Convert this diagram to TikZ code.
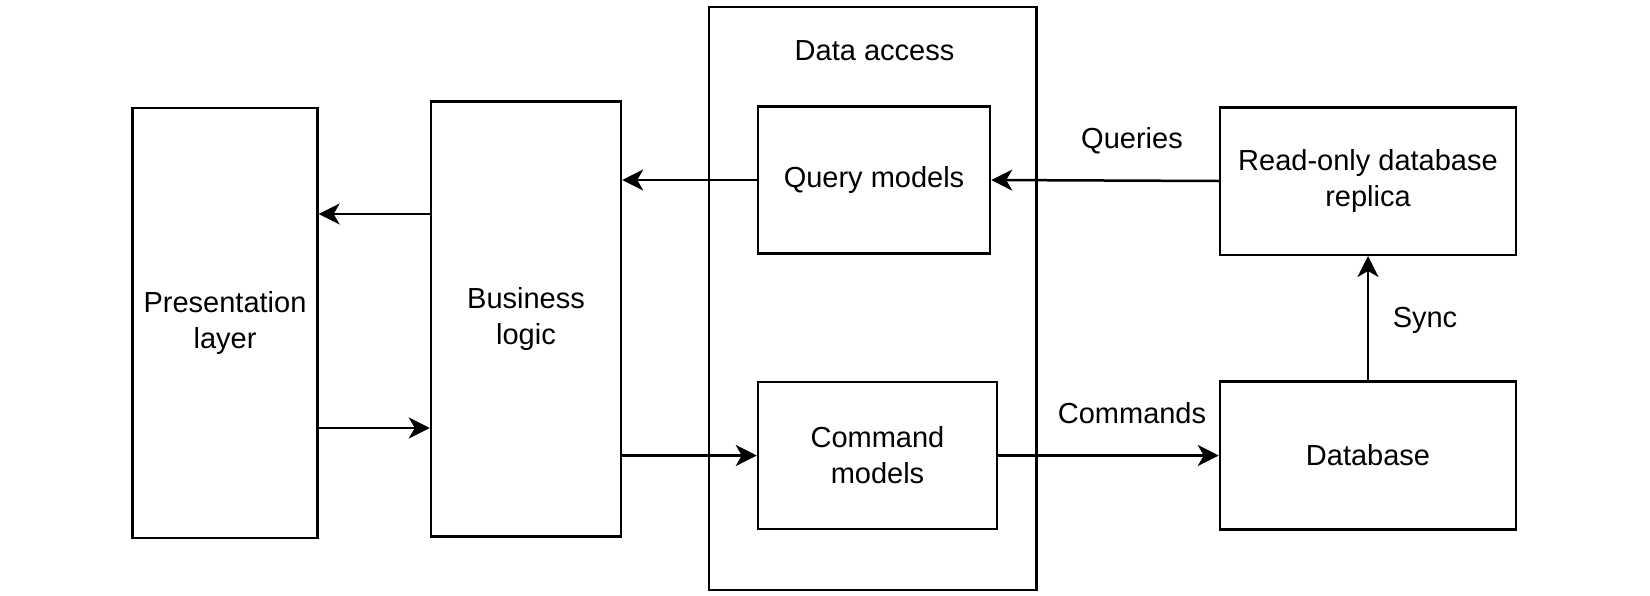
\documentclass[tikz,border=0pt]{standalone}
\usepackage{fontspec}
\setmainfont{Liberation Sans}
\usetikzlibrary{arrows.meta}
\begin{document}
\begin{tikzpicture}[x=1pt,y=-1pt,
  box/.style={draw=black, line width=2.5pt, fill=white, rectangle, inner sep=0pt, align=center,
    font=\fontsize{29}{36}\selectfont},
  conn/.style={draw=black, line width=2.5pt, -{Stealth[length=21pt,width=21pt,inset=6pt]}},
  lbl/.style={font=\fontsize{29}{36}\selectfont, anchor=base, inner sep=0pt}]
\useasboundingbox[fill=white] (0,0) rectangle (1650,595);
% boxes
\node[box, minimum width=327.6pt, minimum height=583pt] (da) at (872.8,298.4) {};
\node[lbl] (dalbl) at (874.5,60.7) {Data access};
\node[box, minimum width=184.8pt, minimum height=430pt] (pres) at (225,323) {Presentation\\layer};
\node[box, minimum width=190pt, minimum height=435pt] (bus) at (526,319) {Business\\logic};
\node[box, minimum width=232pt, minimum height=147pt] (qm) at (874,180) {Query models};
\node[box, minimum width=239pt, minimum height=147pt] (cm) at (877.5,455.5) {Command\\models};
\node[box, minimum width=296pt, minimum height=147.5pt] (rep) at (1368,181) {Read-only database\\replica};
\node[box, minimum width=296pt, minimum height=147.6pt] (db) at (1368,455.5) {Database};
% connectors
\draw[conn] (qm.west) -- (qm.west -| bus.east);
\draw[conn] ([yshift=105pt]bus.west) -- ([yshift=105pt]bus.west -| pres.east);
\draw[conn] ([yshift=-105pt]pres.east) -- ([yshift=-105pt]pres.east -| bus.west);
\draw[conn] (cm.west -| bus.east) -- (cm.west);
\draw[conn] (cm.east) -- (db.west);
\draw[conn] (rep.west) -- (qm.east);
\draw[conn] (db.north) -- (rep.south);
% labels
\node[lbl] (qlbl) at (1132,148.3) {Queries};
\node[lbl] (clbl) at (1132,423.3) {Commands};
\node[lbl] (slbl) at (1425,327) {Sync};
\end{tikzpicture}
\end{document}
